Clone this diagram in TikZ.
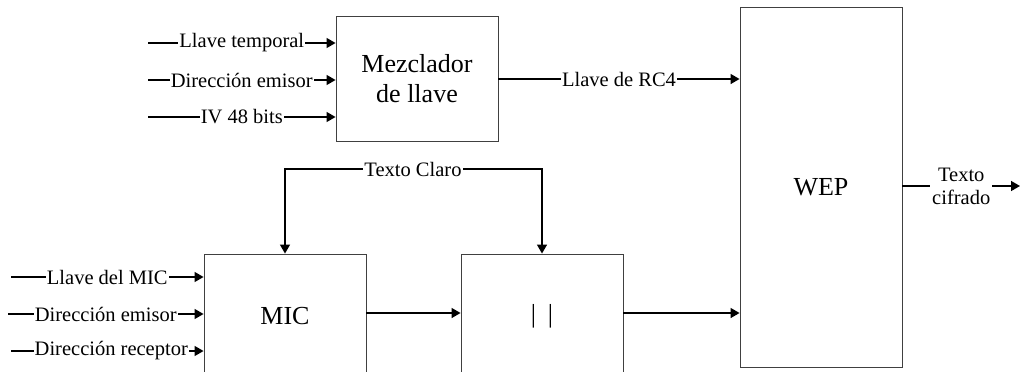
\documentclass[tikz,border=0pt]{standalone}
\usepackage{fontspec}
\setmainfont{Liberation Serif}
\usetikzlibrary{arrows.meta}
\begin{document}
\begin{tikzpicture}[x=1pt,y=-1pt,
  blockbox/.style={draw=black!75, line width=0.9pt, minimum width=162pt, inner sep=0pt, font=\fontsize{26}{30}\selectfont},
  arr/.style={line width=1.4pt, -{Triangle[length=9pt,width=10pt]}},
  lbl/.style={fill=white, inner sep=1pt, font=\fontsize{20.5}{21}\selectfont}]
\useasboundingbox (0,0) rectangle (1020,372);

% processing blocks
\node[blockbox, minimum height=125pt, align=center] (mix) at (417,78.5) {Mezclador\\de llave};
\node[blockbox, minimum height=360pt] (wep) at (821,187) {WEP};
\node[blockbox, minimum height=124pt] (mic) at (285,316) {MIC};
\node[blockbox, minimum height=124pt] (cat) at (542,316) {|\hspace{12pt}|};

% inputs of the key mixer
\coordinate (k1) at (148,43);
\coordinate (k2) at (148,80);
\coordinate (k3) at (148,117);
\draw[arr] (k1) -- (k1 -| mix.west) node[lbl, midway] {Llave temporal};
\draw[arr] (k2) -- (k2 -| mix.west) node[lbl, midway] {Dirección emisor};
\draw[arr] (k3) -- (k3 -| mix.west) node[lbl, midway] {IV 48 bits};

% RC4 key into WEP
\coordinate (r) at (498,79);
\draw[arr] (mix.east |- r) -- (wep.west |- r) node[lbl, midway] {Llave de RC4};

% inputs of the MIC block
\coordinate (m1) at (11,277);
\coordinate (m2) at (8,314);
\coordinate (m3) at (11,351);
\draw[arr] (m1) -- (m1 -| mic.west) node[lbl, midway] {Llave del MIC};
\draw[arr] (m2) -- (m2 -| mic.west) node[lbl, midway] {Dirección emisor};
\draw[arr] (m3) -- (m3 -| mic.west) node[lbl, midway, xshift=4pt] {Dirección receptor};

% plain text feeding both MIC and concatenation
\coordinate (tc) at (413,169);
\draw[arr] (tc) -| (mic.north);
\draw[arr] (tc) -| (cat.north);
\node[lbl] at (tc) {Texto Claro};

% MIC -> concatenation -> WEP
\coordinate (b) at (0,313);
\draw[arr] (mic.east |- b) -- (cat.west |- b);
\draw[arr] (cat.east |- b) -- (wep.west |- b);

% ciphertext output
\coordinate (out) at (1020,186);
\draw[arr] (wep.east |- out) -- (out) node[lbl, midway, xshift=0pt, align=center, font=\fontsize{20.5}{23}\selectfont, inner sep=2pt] {Texto\\cifrado};
\end{tikzpicture}
\end{document}
